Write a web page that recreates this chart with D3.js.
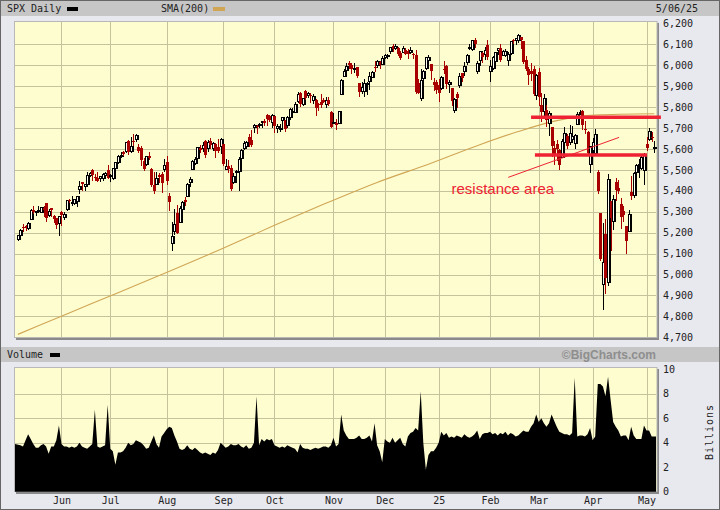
<!DOCTYPE html>
<meta charset="utf-8">
<style>
body { margin: 0; background: #e8e8ef; }
svg { display: block; }
text { font-family: "DejaVu Sans Mono", monospace; font-size: 10px; fill: #222; }
</style>
<div id="chart"></div>
<script src="https://cdn.jsdelivr.net/npm/d3@7"></script>
<script>

// SPX daily, 5/08/24 .. 5/06/25 (one entry per trading day)
var opens = [
  5168,5189,5226,5234,5222,5264,5310,5301,5305,5298,5320,5340,5282,5316,5279,5270,5244,
  5297,5275,5315,5357,5343,5341,5353,5409,5441,5424,5432,5477,5500,5466,5459,5461,5460,5473,5499,
  5471,5461,5507,5537,5572,5584,5591,5636,5590,5638,5645,5611,5603,5543,5528,5565,5505,5429,5433,5477,5479,5505,
  5537,5377,5151,5206,5293,5252,5312,5354,5376,5443,5502,5531,5557,5603,5604,5637,5602,5640,5602,5624,5608,5613,
  5623,5506,5520,5507,5443,5490,5496,5557,5603,5615,5655,5641,5703,5709,5712,5728,5733,5762,5756,5727,
  5757,5698,5699,5737,5737,5714,5751,5778,5775,5829,5866,5816,5875,5859,5857,5832,5835,5816,5826,5833,5815,5832,5775,
  5724,5725,5722,5864,5947,5977,6009,6003,5983,5990,5913,5877,5875,5915,5924,5945,5992,6000,6015,6004,
  6040,6042,6069,6090,6082,6083,6058,6061,6074,6069,6064,6052,6048,5913,5843,5941,5985,6025,6006,5921,5920,
  5904,5892,5983,5994,5910,5891,5788,5860,5905,5962,5970,6015,6082,6077,6122,5970,6027,6057,6051,6097,
  5970,5986,6021,6072,6084,6047,6049,6026,6060,6118,6121,6118,6134,6114,6027,5983,5970,5982,5857,
  5969,5812,5782,5785,5726,5705,5603,5624,5595,5563,5635,5662,5632,5646,5630,5719,5775,5781,5696,5679,5527,
  5597,5580,5492,5292,4953,5193,4966,5353,5255,5441,5411,5335,5305,5232,5207,5395,5381,5490,5525,5508,5499,
  5625,5645,5656,5605
];
var highs = [
  5191,5215,5240,5238,5250,5311,5325,5305,5325,5324,5325,5342,5311,5316,5282,5272,5280,
  5302,5298,5354,5362,5376,5362,5376,5448,5442,5432,5489,5490,5506,5478,5490,5472,5483,5490,5524,
  5480,5509,5539,5570,5584,5590,5635,5642,5655,5670,5669,5622,5614,5557,5566,5585,5509,5491,5488,5487,5489,5551,
  5567,5390,5250,5313,5330,5325,5351,5371,5436,5464,5546,5562,5609,5620,5633,5643,5642,5651,5632,5628,5647,5651,
  5624,5552,5546,5523,5484,5497,5561,5600,5636,5636,5670,5690,5721,5715,5725,5735,5741,5767,5764,5765,
  5757,5720,5718,5752,5739,5757,5796,5795,5822,5871,5870,5843,5879,5872,5867,5863,5838,5818,5862,5843,5847,5850,5779,
  5772,5741,5783,5932,5983,6012,6018,6009,6008,5993,5916,5918,5932,5921,5965,5973,6021,6025,6021,6044,
  6053,6053,6088,6099,6099,6088,6066,6093,6080,6078,6085,6057,6071,5936,5982,5979,6041,6050,6007,5941,5930,
  5935,5949,6022,6001,5928,5892,5841,5871,5961,5964,6014,6051,6100,6119,6128,6018,6070,6063,6087,6121,
  6023,6042,6062,6084,6101,6073,6076,6064,6116,6127,6130,6147,6134,6115,6044,5993,6010,5994,5959,
  5987,5866,5861,5812,5783,5705,5636,5642,5598,5646,5704,5670,5715,5711,5670,5775,5787,5784,5733,5684,5615,
  5651,5695,5500,5292,5247,5267,5481,5353,5381,5460,5450,5367,5329,5233,5309,5470,5489,5528,5554,5572,5581,
  5659,5700,5683,5639
];
var lows = [
  5165,5180,5207,5211,5217,5263,5296,5283,5299,5297,5281,5257,5278,5280,5251,5222,5191,
  5235,5265,5310,5346,5331,5336,5328,5391,5404,5404,5421,5469,5452,5452,5447,5446,5452,5469,5460,
  5448,5458,5507,5534,5562,5570,5587,5576,5584,5620,5640,5584,5523,5498,5525,5550,5425,5390,5430,5444,5394,5496,
  5434,5306,5119,5194,5196,5249,5302,5331,5376,5421,5502,5528,5551,5585,5592,5561,5590,5603,5594,5561,5585,5581,
  5521,5504,5491,5403,5435,5441,5406,5535,5601,5604,5614,5615,5683,5674,5707,5703,5714,5716,5731,5704,
  5681,5679,5684,5703,5684,5707,5745,5764,5774,5825,5804,5808,5836,5846,5825,5821,5762,5784,5800,5823,5798,5811,5703,
  5723,5696,5722,5864,5947,5976,5985,5961,5966,5942,5854,5865,5854,5860,5885,5944,5973,5993,5986,6004,
  6035,6034,6058,6070,6076,6048,6030,6061,6051,6034,6059,6036,5867,5866,5832,5902,5983,6004,5932,5879,5869,
  5830,5888,5961,5891,5874,5811,5774,5801,5897,5923,5954,6007,6076,6074,6088,5962,6002,6017,6030,6031,
  5924,5983,6007,6052,6020,6047,6043,6003,6051,6104,6099,6111,6084,6009,5978,5909,5928,5858,5837,
  5810,5733,5763,5711,5667,5565,5529,5547,5505,5563,5628,5602,5622,5633,5603,5719,5765,5695,5674,5573,5489,
  5572,5572,5390,5070,4835,4910,4950,5116,5219,5358,5387,5220,5256,5101,5207,5363,5371,5463,5468,5506,5433,
  5597,5644,5639,5587
];
var closes = [
  5188,5214,5223,5221,5247,5308,5297,5303,5308,5321,5307,5268,5305,5306,5267,5235,5278,
  5283,5291,5354,5353,5347,5361,5375,5421,5434,5432,5473,5487,5473,5465,5448,5469,5478,5483,5460,
  5475,5509,5537,5567,5573,5577,5634,5585,5615,5631,5667,5588,5545,5505,5564,5556,5427,5399,5459,5464,5436,5522,
  5447,5347,5186,5240,5200,5319,5344,5344,5434,5455,5543,5554,5608,5597,5621,5571,5635,5617,5626,5592,5592,5648,
  5529,5520,5503,5408,5471,5496,5554,5596,5626,5633,5635,5618,5714,5703,5719,5733,5722,5745,5738,5762,
  5709,5710,5700,5751,5696,5751,5792,5780,5815,5860,5815,5842,5841,5865,5854,5851,5797,5810,5808,5824,5833,5814,5705,
  5729,5713,5783,5929,5973,5996,6001,5984,5985,5949,5871,5894,5917,5917,5949,5969,5987,6022,5999,6032,
  6047,6050,6086,6075,6090,6053,6035,6084,6051,6051,6074,6051,5872,5867,5931,5974,6040,6038,5971,5907,5882,
  5869,5942,5975,5909,5918,5827,5836,5843,5950,5937,5997,6049,6086,6119,6101,6012,6068,6039,6071,6041,
  5995,6038,6061,6084,6026,6066,6069,6052,6115,6115,6130,6144,6118,6013,5983,5955,5956,5862,5955,
  5850,5778,5843,5739,5770,5615,5572,5599,5522,5639,5675,5615,5675,5663,5668,5768,5777,5712,5693,5581,5612,
  5633,5671,5397,5074,5062,4983,5457,5268,5363,5406,5397,5276,5283,5158,5288,5376,5485,5525,5529,5561,5569,
  5604,5687,5650,5607
];
// volume, billions of shares
var volumes = [
  3.9,3.8,3.7,4.2,4.7,4.3,3.9,3.6,3.6,3.8,3.9,3.7,3.1,3.7,3.7,4.2,5.4,
  3.9,3.7,3.7,3.6,3.7,3.6,3.7,4.0,3.7,3.6,3.5,3.7,3.9,6.7,3.7,3.6,3.7,3.8,7.1,
  3.5,3.3,2.2,3.2,3.2,3.3,3.6,4.0,3.8,3.9,4.2,4.1,4.0,3.8,3.5,3.6,4.1,4.6,3.9,3.6,4.5,4.8,
  5.1,5.3,5.2,4.6,4.1,3.5,3.4,3.5,3.8,3.5,3.4,3.6,3.4,3.2,3.1,3.2,3.1,3.0,3.2,3.1,3.4,4.0,
  3.8,3.6,3.7,3.9,3.8,3.8,3.9,3.7,3.6,3.8,3.5,3.6,4.0,7.8,3.8,4.3,4.1,4.3,4.2,4.3,
  3.8,3.7,3.6,3.7,3.6,3.8,3.7,3.6,3.5,3.2,3.9,3.6,3.5,3.5,3.4,3.5,3.6,3.5,3.6,3.7,3.7,3.6,3.8,
  4.4,3.7,3.9,6.3,5.0,4.6,4.3,4.3,4.3,4.4,4.6,4.3,4.3,4.4,4.6,4.1,5.6,3.8,3.3,2.4,
  4.3,4.1,4.0,4.4,4.0,4.2,4.4,3.9,3.7,4.5,4.8,4.9,5.2,5.0,8.2,4.0,1.8,3.0,3.3,3.3,3.6,
  4.0,4.9,4.6,4.8,4.4,4.5,4.4,4.6,4.5,4.4,4.7,4.5,4.4,4.5,4.7,5.0,4.3,4.7,4.8,4.8,
  4.9,4.7,4.8,4.6,4.8,4.7,4.9,4.6,4.8,4.7,4.5,4.6,4.8,5.0,4.9,4.9,5.3,5.6,6.3,
  5.7,6.0,5.6,5.3,5.6,6.3,5.8,5.3,4.9,4.8,4.7,4.7,4.6,4.8,9.3,4.5,4.6,4.6,4.5,4.7,5.2,
  4.2,4.5,8.8,8.8,8.6,7.8,9.4,7.5,5.7,5.3,5.0,4.5,4.6,4.6,4.2,5.3,4.6,4.3,4.3,4.3,5.4,
  5.0,5.0,4.5,4.5
];
// 200-day simple moving average, read at sampled trading days
var smaDay = [0, 20, 40, 60, 80, 100, 120, 140, 160, 180, 195, 210, 225, 248];
var smaVal = [4714, 4816, 4918, 5020, 5125, 5235, 5340, 5440, 5527, 5620, 5683, 5735, 5762, 5768];

var monthStart = [17, 36, 58, 80, 100, 123, 143, 164, 184, 203, 224, 245];
var monthLabels = ['Jun', 'Jul', 'Aug', 'Sep', 'Oct', 'Nov', 'Dec', '25', 'Feb', 'Mar', 'Apr', 'May'];
var priceTicks = [4700, 4800, 4900, 5000, 5100, 5200, 5300, 5400, 5500, 5600, 5700, 5800, 5900, 6000, 6100, 6200];
var volTicks = [0, 2, 4, 6, 8, 10];

// hand-drawn notes: day index / price
var resistLines = [
  {from: 200, to: 250.6, level: 5751},
  {from: 201.5, to: 245.2, level: 5571}
];
var trendLine = [[191.1, 5464], [234.3, 5655]];
var note = {day: 169, price: 5385, text: 'resistance area'};

var W = 720, H = 510;
var yellow = '#fdfdd0', gridCol = '#c6c29c', red = '#a80000', tan = '#d0a655';

var svg = d3.select('#chart').append('svg')
    .attr('width', W)
    .attr('height', H);

var x = d3.scaleLinear().domain([-1, 249]).range([15.3, 656.8]);
var y = d3.scaleLinear().domain([4700, 6200]).range([337.3, 23.3]);
var yv = d3.scaleLinear().domain([0, 10]).range([491.7, 369.3]);

// frame
svg.append('rect').attr('x', 0.5).attr('y', 0.5).attr('width', W - 1).attr('height', H - 1)
    .attr('fill', '#e8e8ef').attr('stroke', '#666');
svg.append('rect').attr('x', 1).attr('y', 1).attr('width', W - 2).attr('height', 15).attr('fill', '#c6c6c6');
svg.append('rect').attr('x', 1).attr('y', 347).attr('width', W - 2).attr('height', 15).attr('fill', '#c6c6c6');

function panel(top, bottom) {
    svg.append('rect').attr('x', 16).attr('y', top + 1).attr('width', 643).attr('height', bottom - top + 1)
        .attr('fill', '#8a8a8a');
    svg.append('rect').attr('x', 14.5).attr('y', top - 0.5).attr('width', 642.5).attr('height', bottom - top)
        .attr('fill', yellow).attr('stroke', '#b8b8b8');
}
panel(22, 338);
panel(368, 492);

// grids
var grid = svg.append('g').attr('shape-rendering', 'crispEdges').attr('stroke', gridCol);
grid.selectAll('.hp').data(priceTicks.slice(1, -1)).enter().append('line')
    .attr('x1', 15).attr('x2', 656)
    .attr('y1', function(d) { return Math.round(y(d)) + 0.5; })
    .attr('y2', function(d) { return Math.round(y(d)) + 0.5; });
grid.selectAll('.hv').data(volTicks.slice(1, -1)).enter().append('line')
    .attr('x1', 15).attr('x2', 656)
    .attr('y1', function(d) { return Math.round(yv(d)) + 0.5; })
    .attr('y2', function(d) { return Math.round(yv(d)) + 0.5; });
monthStart.forEach(function(d) {
    var gx = Math.round(x(d)) + 0.5;
    grid.append('line').attr('x1', gx).attr('x2', gx).attr('y1', 22).attr('y2', 337);
    grid.append('line').attr('x1', gx).attr('x2', gx).attr('y1', 368).attr('y2', 491);
});

// SMA(200)
svg.append('path')
    .datum(smaDay)
    .attr('fill', 'none')
    .attr('stroke', tan)
    .attr('stroke-width', 1.1)
    .attr('d', d3.line()
        .x(function(d) { return x(d); })
        .y(function(d, i) { return y(smaVal[i]); })
        .curve(d3.curveMonotoneX));

// candles
var candles = svg.append('g').attr('shape-rendering', 'crispEdges');
closes.forEach(function(c, i) {
    var o = opens[i], up = c >= o;
    var cx = Math.round(x(i));
    var col = up ? '#000' : red;
    candles.append('line')
        .attr('x1', cx + 0.5).attr('x2', cx + 0.5)
        .attr('y1', Math.round(y(highs[i]))).attr('y2', Math.round(y(lows[i])) + 1)
        .attr('stroke', col);
    var top = Math.round(y(Math.max(o, c))), bot = Math.round(y(Math.min(o, c)));
    if (up) {
        candles.append('rect')
            .attr('x', cx - 0.5).attr('y', top + 0.5)
            .attr('width', 2.5).attr('height', Math.max(bot - top, 1))
            .attr('fill', '#fffff4').attr('stroke', '#000').attr('stroke-width', 1.1);
    } else {
        candles.append('rect')
            .attr('x', cx - 1).attr('y', top)
            .attr('width', 3).attr('height', Math.max(bot - top, 1))
            .attr('fill', red);
    }
});

// volume
svg.append('path')
    .datum(volumes)
    .attr('fill', '#000')
    .attr('d', d3.area()
        .x(function(d, i) { return i === 0 ? 15 : (i === volumes.length - 1 ? 656 : x(i)); })
        .y0(yv(0))
        .y1(function(d) { return yv(d); }));

// annotations
var noteRed = '#ee2232';
resistLines.forEach(function(r) {
    svg.append('line')
        .attr('x1', x(r.from)).attr('x2', x(r.to))
        .attr('y1', y(r.level)).attr('y2', y(r.level))
        .attr('stroke', noteRed).attr('stroke-width', 3.6);
});
svg.append('line')
    .attr('x1', x(trendLine[0][0])).attr('y1', y(trendLine[0][1]))
    .attr('x2', x(trendLine[1][0])).attr('y2', y(trendLine[1][1]))
    .attr('stroke', noteRed).attr('stroke-width', 1);
svg.append('text')
    .attr('x', x(note.day)).attr('y', y(note.price))
    .style('font-family', '"Liberation Sans", Arial, sans-serif')
    .style('font-size', '15px')
    .style('fill', noteRed)
    .text(note.text);

// axes
function styleAxis(g) {
    g.select('.domain').remove();
    g.attr('font-family', null).attr('font-size', null);
    g.selectAll('text').style('fill', '#222');
}
svg.append('g')
    .attr('transform', 'translate(660,0)')
    .call(d3.axisRight(y).tickValues(priceTicks).tickSize(0).tickPadding(3).tickFormat(d3.format(',')))
    .call(styleAxis);
svg.append('g')
    .attr('transform', 'translate(660,0)')
    .call(d3.axisRight(yv).tickValues(volTicks).tickSize(0).tickPadding(3))
    .call(styleAxis);
svg.append('g')
    .attr('transform', 'translate(0,492)')
    .call(d3.axisBottom(x).tickValues(monthStart).tickSize(0).tickPadding(4.5)
        .tickFormat(function(d, i) { return monthLabels[i]; }))
    .call(styleAxis);

svg.append('text')
    .attr('transform', 'translate(713,432) rotate(-90)')
    .attr('text-anchor', 'middle')
    .style('letter-spacing', '1px')
    .text('Billions');

// legends
svg.append('text').attr('x', 7).attr('y', 12).text('SPX Daily');
svg.append('rect').attr('x', 67).attr('y', 7).attr('width', 11).attr('height', 4).attr('fill', '#000');
svg.append('text').attr('x', 161).attr('y', 12).text('SMA(200)');
svg.append('rect').attr('x', 213).attr('y', 7).attr('width', 12).attr('height', 4).attr('fill', tan);
svg.append('text').attr('x', 698).attr('y', 12).attr('text-anchor', 'end').text('5/06/25');
svg.append('text').attr('x', 7).attr('y', 358).text('Volume');
svg.append('rect').attr('x', 50).attr('y', 353).attr('width', 10).attr('height', 4).attr('fill', '#000');
svg.append('text').attr('x', 656).attr('y', 359).attr('text-anchor', 'end')
    .style('font-family', '"Liberation Sans", Arial, sans-serif')
    .style('font-size', '12px').style('font-weight', 'bold').style('fill', '#8e8e8e')
    .text('\u00a9BigCharts.com');

</script>
